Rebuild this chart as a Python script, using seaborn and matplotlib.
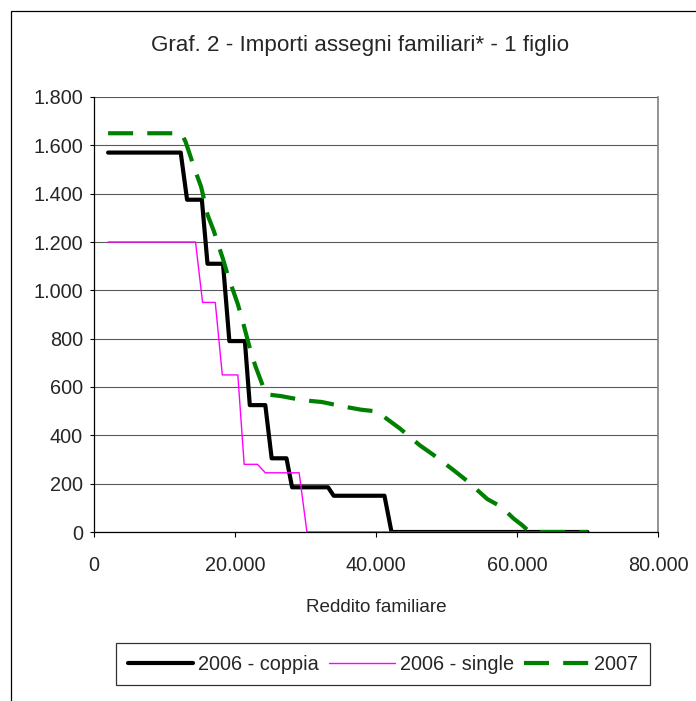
import matplotlib
matplotlib.use("Agg")
import matplotlib.pyplot as plt
import matplotlib.ticker as mticker
from matplotlib.patches import Rectangle
import seaborn as sns
import pandas as pd

# ---- data ----
coppia_x = [2000, 12300, 13200, 15300, 16100, 18300, 19200, 21400, 22100, 24300, 25200,
            27300, 28100, 33200, 34000, 41200, 42200, 70000]
coppia_y = [1570, 1570, 1375, 1375, 1110, 1110, 790, 790, 525, 525, 305,
            305, 185, 185, 150, 150, 0, 0]

single_x = [2000, 14400, 15400, 17200, 18200, 20400, 21300, 23200, 24300, 29100, 30200, 70000]
single_y = [1200, 1200, 950, 950, 650, 650, 280, 280, 245, 245, 0, 0]

y2007_x = [2000, 12400, 13000, 14300, 15200, 16100, 17000, 18300, 19000, 20400, 21100,
           22200, 22900, 24400, 26600, 29700, 32300, 35800, 37900, 40100, 41500, 43400,
           46200, 48100, 51000, 52900, 55800, 57800, 59500, 60700, 61800, 70000]
y2007_y = [1650, 1650, 1614, 1500, 1428, 1313, 1245, 1129, 1060, 943, 871,
           750, 686, 570, 562, 545, 538, 517, 506, 499, 469, 428,
           359, 320, 256, 212, 136, 104, 56, 29, 0, 0]

series_names = ["2006 - coppia", "2006 - single", "2007"]
title = "Graf. 2 - Importi assegni familiari* - 1 figlio"
xlabel = "Reddito familiare"
x_ticks = [0, 20000, 40000, 60000, 80000]
y_ticks = [0, 200, 400, 600, 800, 1000, 1200, 1400, 1600, 1800]

df = pd.concat([
    pd.DataFrame({"x": coppia_x, "y": coppia_y, "serie": series_names[0]}),
    pd.DataFrame({"x": single_x, "y": single_y, "serie": series_names[1]}),
    pd.DataFrame({"x": y2007_x, "y": y2007_y, "serie": series_names[2]}),
])

sns.set_style("white")
plt.rcParams["font.family"] = ["Liberation Sans", "DejaVu Sans"]

W, H = 696, 701
fig = plt.figure(figsize=(W / 100, H / 100), dpi=100)
ax = fig.add_axes([94 / W, 1 - 532 / H, (658 - 94) / W, (532 - 97) / H])

styles = {
    series_names[0]: dict(color="black", lw=3.0, linestyle="-"),
    series_names[1]: dict(color="#FF00FF", lw=1.0, linestyle="-"),
    series_names[2]: dict(color="#008000", lw=3.0, linestyle=(0, (6, 3.4))),
}
for name in series_names:
    sub = df[df["serie"] == name]
    st = styles[name]
    sns.lineplot(data=sub, x="x", y="y", ax=ax, color=st["color"], linewidth=st["lw"],
                 linestyle=st["linestyle"], label=name, sort=False, estimator=None,
                 legend=False)

ax.set_xlim(0, 80000)
ax.set_ylim(0, 1800)
ax.set_xticks(x_ticks)
ax.set_yticks(y_ticks)
fmt = mticker.FuncFormatter(lambda v, p: f"{int(v):,}".replace(",", "."))
ax.xaxis.set_major_formatter(fmt)
ax.yaxis.set_major_formatter(fmt)
ax.tick_params(axis="both", labelsize=14.3, direction="out", width=0.8,
               color="black", left=True, bottom=True)
ax.tick_params(axis="y", length=3, pad=5)
ax.tick_params(axis="x", length=3.5, pad=14)

ax.grid(axis="y", color="#5a5a5a", linewidth=0.8)
ax.set_axisbelow(True)
for s in ["left", "bottom"]:
    ax.spines[s].set_color("black")
    ax.spines[s].set_linewidth(0.9)
ax.spines["top"].set_visible(False)
ax.spines["right"].set_color("#808080")
ax.spines["right"].set_linewidth(1.2)

ax.set_xlabel("")
ax.set_ylabel("")
fig.text(376 / W, 1 - 607 / H, xlabel, ha="center", va="center", fontsize=13.6)
fig.text(360 / W, 1 - 45 / H, title, ha="center", va="center", fontsize=16.1)

handles, labels = ax.get_legend_handles_labels()
leg = fig.legend(handles, labels, loc="center", ncol=3,
                 bbox_to_anchor=(383 / W, 1 - 664 / H), bbox_transform=fig.transFigure,
                 fontsize=14.3, frameon=True, fancybox=False, edgecolor="black",
                 handlelength=3.3, handletextpad=0.25, columnspacing=0.5,
                 borderpad=0.6, borderaxespad=0)
leg.get_frame().set_linewidth(0.9)

# outer chart frame (only left and top edges visible in the reference)
fig.patches.append(Rectangle((11 / W, -0.1), 1.2, (1 - 11 / H) + 0.1, transform=fig.transFigure,
                             fill=False, edgecolor="black", linewidth=0.9))

fig.savefig("out.png", dpi=100)
